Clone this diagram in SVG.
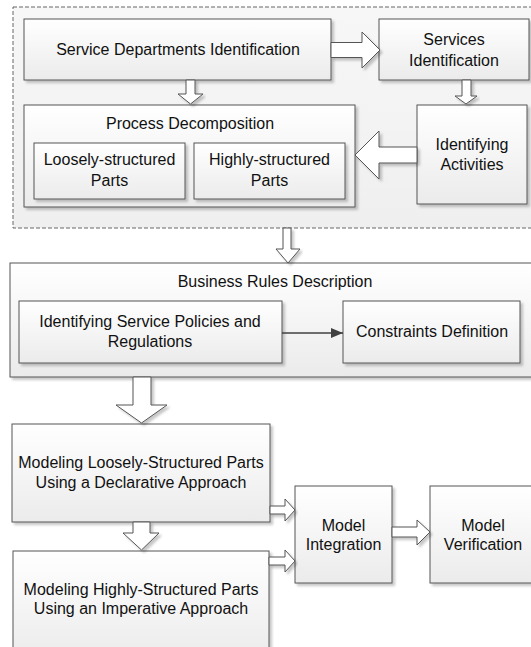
<svg xmlns="http://www.w3.org/2000/svg" width="531" height="647" viewBox="0 0 531 647">
<defs>
<linearGradient id="g" x1="0" y1="0" x2="0" y2="1">
<stop offset="0" stop-color="#ffffff"/>
<stop offset="1" stop-color="#ebebeb"/>
</linearGradient>
<linearGradient id="gd" x1="0" y1="0" x2="0" y2="1">
<stop offset="0" stop-color="#f7f7f7"/>
<stop offset="1" stop-color="#efefef"/>
</linearGradient>
<filter id="sh" x="-5%" y="-5%" width="115%" height="120%">
<feDropShadow dx="2.5" dy="2.5" stdDeviation="1.2" flood-color="#000" flood-opacity="0.22"/>
</filter>
<marker id="ah" markerWidth="12" markerHeight="10" refX="12" refY="5" orient="auto" markerUnits="userSpaceOnUse">
<path d="M0,0 L12,5 L0,10 Z" fill="#404040"/>
</marker>
</defs>
<style>
.box{fill:url(#g);stroke:#555555;stroke-width:1;filter:url(#sh)}
.arr{fill:#ffffff;stroke:#555555;stroke-width:1;filter:url(#sh)}
.t{font-family:"Liberation Sans",Arial,sans-serif;font-size:16px;fill:#111111;text-anchor:middle}
</style>

<g id="phase1">
<rect x="13" y="7" width="530" height="221" fill="url(#gd)" stroke="#666666" stroke-width="1" stroke-dasharray="4,2"/>
</g>

<g id="sdi">
<rect class="box" x="24" y="19" width="307" height="61"/>
<text class="t" x="178" y="55">Service Departments Identification</text>
</g>
<g id="si">
<rect class="box" x="379" y="19" width="150" height="61"/>
<text class="t" x="454" y="45">Services</text>
<text class="t" x="454" y="66">Identification</text>
</g>
<g id="pd">
<rect class="box" x="24" y="105" width="331" height="102"/>
<text class="t" x="190" y="129">Process Decomposition</text>
</g>
<g id="lsp">
<rect class="box" x="34" y="143" width="151" height="56"/>
<text class="t" x="109.5" y="165">Loosely-structured</text>
<text class="t" x="109.5" y="186">Parts</text>
</g>
<g id="hsp">
<rect class="box" x="194" y="143" width="151" height="56"/>
<text class="t" x="269.5" y="165">Highly-structured</text>
<text class="t" x="269.5" y="186">Parts</text>
</g>
<g id="ia">
<rect class="box" x="417" y="105" width="110" height="99"/>
<text class="t" x="472" y="150">Identifying</text>
<text class="t" x="472" y="170">Activities</text>
</g>

<g id="brd">
<rect class="box" x="10" y="263" width="530" height="114"/>
<text class="t" x="275" y="287">Business Rules Description</text>
</g>
<g id="isp">
<rect class="box" x="19" y="301" width="263" height="62"/>
<text class="t" x="150" y="327">Identifying Service Policies and</text>
<text class="t" x="150" y="347">Regulations</text>
</g>
<g id="cd">
<rect class="box" x="343" y="301" width="177" height="62"/>
<text class="t" x="432" y="337">Constraints Definition</text>
</g>

<g id="ml">
<rect class="box" x="12" y="424" width="258" height="98"/>
<text class="t" x="141" y="468">Modeling Loosely-Structured Parts</text>
<text class="t" x="141" y="488">Using a Declarative Approach</text>
</g>
<g id="mh">
<rect class="box" x="13" y="551" width="256" height="110"/>
<text class="t" x="141" y="595">Modeling Highly-Structured Parts</text>
<text class="t" x="141" y="614">Using an Imperative Approach</text>
</g>
<g id="mi">
<rect class="box" x="295" y="486" width="97" height="97"/>
<text class="t" x="343.5" y="531">Model</text>
<text class="t" x="343.5" y="550">Integration</text>
</g>
<g id="mv">
<rect class="box" x="430" y="486" width="106" height="97"/>
<text class="t" x="483" y="531">Model</text>
<text class="t" x="483" y="550">Verification</text>
</g>

<g id="connectors">
<polygon class="arr" points="331,42.5 362,42.5 362,32 380,50 362,68 362,57.5 331,57.5"/>
<polygon class="arr" points="186,80 195,80 195,94 203,94 190.5,104 178,94 186,94"/>
<polygon class="arr" points="462,80 471,80 471,96 477,96 466,104 455,96 462,96"/>
<polygon class="arr" points="417,147 379,147 379,131 355,155 379,179 379,163 417,163"/>
<polygon class="arr" points="283,228 291,228 291,249 300,249 288,263 276,249 283,249"/>
<polygon class="arr" points="133,377 151,377 151,405 167,405 141.5,423 116,405 133,405"/>
<polygon class="arr" points="133,522 150,522 150,533 159,533 141.5,550 123,533 133,533"/>
<polygon class="arr" points="270,506 285,506 285,499 295,510 285,521 285,514 270,514"/>
<polygon class="arr" points="269,557 285,557 285,550 295,561 285,572 285,565 269,565"/>
<polygon class="arr" points="392,527 417,527 417,520 430,532 417,545 417,537 392,537"/>
<line x1="282" y1="333" x2="343" y2="333" stroke="#404040" stroke-width="1.5" marker-end="url(#ah)"/>
</g>
</svg>
